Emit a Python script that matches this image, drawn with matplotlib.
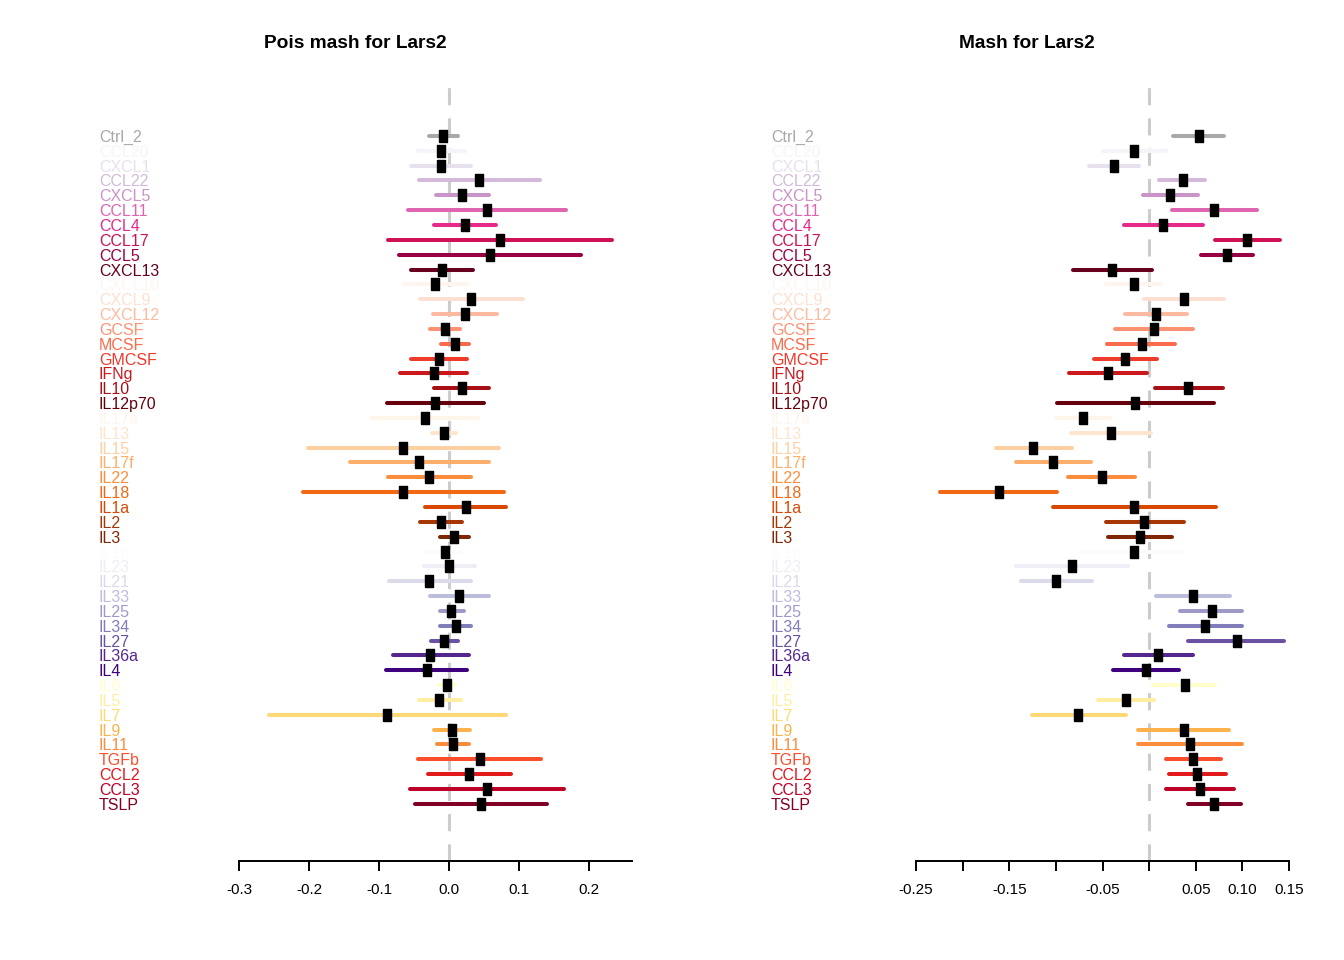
import matplotlib
matplotlib.use("Agg")
import matplotlib.pyplot as plt
import matplotlib.transforms as mtransforms

plt.rcParams['font.family'] = ['Liberation Sans', 'DejaVu Sans']

# row labels, top to bottom
genes = ['Ctrl_2',
         'CCL20', 'CXCL1', 'CCL22', 'CXCL5', 'CCL11', 'CCL4', 'CCL17', 'CCL5', 'CXCL13',
         'CXCL10', 'CXCL9', 'CXCL12', 'GCSF', 'MCSF', 'GMCSF', 'IFNg', 'IL10', 'IL12p70',
         'IL17a', 'IL13', 'IL15', 'IL17f', 'IL22', 'IL18', 'IL1a', 'IL2', 'IL3',
         'IL1b', 'IL23', 'IL21', 'IL33', 'IL25', 'IL34', 'IL27', 'IL36a', 'IL4',
         'IL6', 'IL5', 'IL7', 'IL9', 'IL11', 'TGFb', 'CCL2', 'CCL3', 'TSLP']

# Pois mash: estimate and interval
pois_est = [-0.008,
            -0.011, -0.012, 0.043, 0.019, 0.054, 0.023, 0.073, 0.059, -0.010,
            -0.020, 0.031, 0.023, -0.006, 0.009, -0.014, -0.022, 0.018, -0.020,
            -0.035, -0.007, -0.066, -0.043, -0.029, -0.066, 0.024, -0.012, 0.007,
            -0.006, 0.000, -0.028, 0.014, 0.003, 0.010, -0.007, -0.027, -0.032,
            -0.003, -0.014, -0.088, 0.004, 0.005, 0.044, 0.029, 0.054, 0.045]
pois_lo = [-0.029,
           -0.045, -0.055, -0.043, -0.018, -0.059, -0.021, -0.087, -0.071, -0.054,
           -0.065, -0.042, -0.023, -0.027, -0.011, -0.054, -0.070, -0.022, -0.089,
           -0.110, -0.024, -0.202, -0.142, -0.087, -0.209, -0.035, -0.042, -0.013,
           -0.032, -0.036, -0.086, -0.027, -0.013, -0.013, -0.026, -0.080, -0.090,
           -0.014, -0.043, -0.257, -0.021, -0.017, -0.044, -0.030, -0.056, -0.049]
pois_hi = [0.013,
           0.023, 0.032, 0.130, 0.057, 0.167, 0.067, 0.233, 0.189, 0.034,
           0.026, 0.105, 0.069, 0.016, 0.029, 0.025, 0.026, 0.057, 0.050,
           0.041, 0.010, 0.071, 0.057, 0.031, 0.079, 0.082, 0.019, 0.028,
           0.019, 0.037, 0.032, 0.057, 0.021, 0.032, 0.013, 0.028, 0.026,
           0.009, 0.017, 0.082, 0.030, 0.029, 0.132, 0.088, 0.164, 0.140]

# Mash: estimate and interval
mash_est = [0.053,
            -0.016, -0.038, 0.036, 0.022, 0.070, 0.015, 0.105, 0.084, -0.040,
            -0.016, 0.037, 0.007, 0.005, -0.008, -0.026, -0.044, 0.042, -0.015,
            -0.071, -0.041, -0.124, -0.103, -0.051, -0.161, -0.016, -0.005, -0.010,
            -0.016, -0.083, -0.100, 0.047, 0.067, 0.060, 0.094, 0.010, -0.003,
            0.038, -0.025, -0.076, 0.037, 0.044, 0.047, 0.051, 0.055, 0.070]
mash_lo = [0.026,
           -0.050, -0.065, 0.011, -0.007, 0.024, -0.027, 0.071, 0.056, -0.082,
           -0.046, -0.006, -0.026, -0.037, -0.045, -0.059, -0.086, 0.006, -0.099,
           -0.100, -0.084, -0.164, -0.143, -0.087, -0.224, -0.103, -0.046, -0.044,
           -0.071, -0.143, -0.137, 0.007, 0.033, 0.021, 0.042, -0.027, -0.039,
           0.004, -0.055, -0.126, -0.012, -0.012, 0.018, 0.021, 0.018, 0.042]
mash_hi = [0.080,
           0.018, -0.011, 0.060, 0.052, 0.116, 0.058, 0.140, 0.111, 0.003,
           0.013, 0.080, 0.041, 0.047, 0.028, 0.008, -0.002, 0.079, 0.070,
           -0.041, 0.002, -0.083, -0.062, -0.015, -0.099, 0.072, 0.037, 0.024,
           0.039, -0.023, -0.061, 0.087, 0.100, 0.100, 0.145, 0.047, 0.032,
           0.071, 0.005, -0.025, 0.086, 0.100, 0.077, 0.082, 0.091, 0.098]

# colours: grey control, then brewer PuRd, Reds, Oranges, Purples, YlOrRd
grey = ['#A9A9A9']
purd = ['#F7F4F9', '#E7E1EF', '#D4B9DA', '#C994C7', '#DF65B0', '#E7298A', '#CE1256', '#980043', '#67001F']
reds = ['#FFF5F0', '#FEE0D2', '#FCBBA1', '#FC9272', '#FB6A4A', '#EF3B2C', '#CB181D', '#A50F15', '#67000D']
oranges = ['#FFF5EB', '#FEE6CE', '#FDD0A2', '#FDAE6B', '#FD8D3C', '#F16913', '#D94801', '#A63603', '#7F2704']
purples = ['#FCFBFD', '#EFEDF5', '#DADAEB', '#BCBDDC', '#9E9AC8', '#807DBA', '#6A51A3', '#54278F', '#3F007D']
ylorrd = ['#FFFFCC', '#FFEDA0', '#FED976', '#FEB24C', '#FD8D3C', '#FC4E2A', '#E31A1C', '#BD0026', '#800026']
row_colors = grey + purd + reds + oranges + purples + ylorrd

rows = list(range(1, len(genes) + 1))

# tall black box as point marker
box = [(-0.33, -0.5), (0.33, -0.5), (0.33, 0.5), (-0.33, 0.5), (-0.33, -0.5)]

W, H = 1344, 960
fig = plt.figure(figsize=(W / 100, H / 100), dpi=100)


def forest(left_px, right_px, xlim, spine_end, ticks, ticklabels, est, lo, hi,
           title, title_px, label_px):
    ax = fig.add_axes([left_px / W, 1 - 861 / H, (right_px - left_px) / W, (861 - 80) / H])
    ax.set_xlim(*xlim)
    ax.set_ylim(49.85, -2.77)
    ax.axvline(0, color='#CCCCCC', lw=2.2, dashes=(5.6, 4.3), zorder=1)
    ax.hlines(rows, lo, hi, colors=row_colors, linewidth=2.9, capstyle='round', zorder=2)
    ax.plot(est, rows, ls='none', marker=box, ms=8, color='black', zorder=3)

    trans = mtransforms.blended_transform_factory(fig.transFigure, ax.transData)
    for g, r, c in zip(genes, rows, row_colors):
        ax.text(label_px / W, r, g, color=c, fontsize=11.5, ha='left',
                va='center_baseline', transform=trans)

    for s in ['left', 'right', 'top']:
        ax.spines[s].set_visible(False)
    ax.spines['bottom'].set_bounds(xlim[0], spine_end)
    ax.spines['bottom'].set_linewidth(1.4)
    ax.set_yticks([])
    ax.set_xticks(ticks)
    ax.set_xticklabels(ticklabels)
    ax.tick_params(axis='x', direction='out', length=7.2, width=1.4, labelsize=11, pad=9)
    fig.text(title_px / W, 1 - 41 / H, title, ha='center', va='center_baseline',
             fontsize=13.8, fontweight='bold')
    return ax


forest(239, 632, (-0.3, 0.2614), 0.2614,
       [-0.3, -0.2, -0.1, 0.0, 0.1, 0.2], ['-0.3', '-0.2', '-0.1', '0.0', '0.1', '0.2'],
       pois_est, pois_lo, pois_hi, 'Pois mash for Lars2', 355, 99)

forest(916, 1289, (-0.25, 0.15), 0.15,
       [-0.25, -0.2, -0.15, -0.1, -0.05, 0.0, 0.05, 0.1, 0.15],
       ['-0.25', '', '-0.15', '', '-0.05', '', '0.05', '0.10', '0.15'],
       mash_est, mash_lo, mash_hi, 'Mash for Lars2', 1027, 771)

plt.savefig('out.png', dpi=100)
